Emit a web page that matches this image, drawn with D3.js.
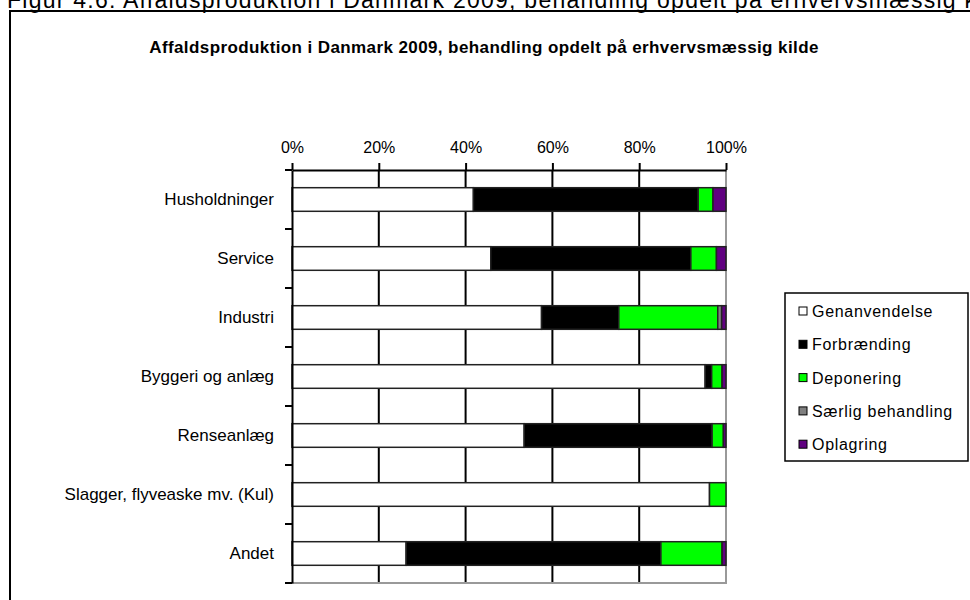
<!DOCTYPE html>
<html>
<head>
<meta charset="utf-8">
<script src="https://cdn.jsdelivr.net/npm/d3@7"></script>
<style>
  body { margin: 0; background: #fff; }
  svg { display: block; font-family: "Liberation Sans", Arial, sans-serif; }
</style>
</head>
<body>
<div id="chart"></div>
<script>
// Data
let categories = ["Husholdninger", "Service", "Industri", "Byggeri og anlæg", "Renseanlæg", "Slagger, flyveaske mv. (Kul)", "Andet"];
let seriesNames = ["Genanvendelse", "Forbrænding", "Deponering", "Særlig behandling", "Oplagring"];
let genanvendelse = [41.8, 45.8, 57.5, 95.2, 53.5, 96.2, 26.3];
let forbraending = [51.8, 46.1, 17.8, 1.5, 43.3, 0, 58.7];
let deponering = [3.4, 5.9, 22.8, 2.4, 2.6, 3.8, 14.1];
let saerlig = [0, 0, 0.9, 0, 0, 0, 0];
let oplagring = [3.0, 2.2, 1.0, 0.9, 0.6, 0, 0.9];
let xTicks = [0, 0.2, 0.4, 0.6, 0.8, 1];

let width = 970;
let height = 600;
let plot = { left: 292, right: 726, top: 170, bottom: 583 };
let colors = ["#ffffff", "#000000", "#00ff00", "#808080", "#600080"];

let rows = categories.map(function(c, i) {
	return {
		category: c,
		"Genanvendelse": genanvendelse[i],
		"Forbrænding": forbraending[i],
		"Deponering": deponering[i],
		"Særlig behandling": saerlig[i],
		"Oplagring": oplagring[i]
	};
});

let stacked = d3.stack()
	.keys(seriesNames)
	.offset(d3.stackOffsetExpand)(rows);

let xScale = d3.scaleLinear().domain([0, 1]).range([plot.left, plot.right]);
let yScale = d3.scaleBand()
	.domain(categories)
	.range([plot.top, plot.bottom])
	.paddingInner(0.6)
	.paddingOuter(0.3);
let colorScale = d3.scaleOrdinal().domain(seriesNames).range(colors);

let svg = d3.select("#chart").append("svg")
	.attr("width", width)
	.attr("height", height);

// Figure caption, cut off at the top and right of the page
svg.append("text")
	.attr("x", 7)
	.attr("y", 8)
	.style("font-size", "23px")
	.style("letter-spacing", "1.25px")
	.text("Figur 4.6: Affaldsproduktion i Danmark 2009, behandling opdelt på erhvervsmæssig kilde");

// Outer frame
svg.append("rect")
	.attr("x", 10)
	.attr("y", 11)
	.attr("width", 980)
	.attr("height", 620)
	.attr("fill", "none")
	.attr("stroke", "#000")
	.attr("stroke-width", 2);

// Title
svg.append("text")
	.attr("x", 484)
	.attr("y", 53)
	.attr("text-anchor", "middle")
	.style("font-size", "17px")
	.style("font-weight", "bold")
	.style("letter-spacing", "0.4px")
	.text("Affaldsproduktion i Danmark 2009, behandling opdelt på erhvervsmæssig kilde");

// Vertical gridlines
svg.append("g").selectAll("line")
	.data(xTicks.slice(1, -1))
	.enter().append("line")
	.attr("x1", function(d) { return xScale(d); })
	.attr("x2", function(d) { return xScale(d); })
	.attr("y1", plot.top)
	.attr("y2", plot.bottom)
	.attr("stroke", "#000")
	.attr("stroke-width", 2);

// Plot border right and bottom (gray)
svg.append("path")
	.attr("d", "M" + xScale(1) + "," + plot.top + "V" + plot.bottom + "H" + xScale(0))
	.attr("fill", "none")
	.attr("stroke", "#999")
	.attr("stroke-width", 2);

// Bars
let seriesGroup = svg.append("g").selectAll("g")
	.data(stacked)
	.enter().append("g")
	.attr("fill", function(d) { return colorScale(d.key); });

seriesGroup.selectAll("rect")
	.data(function(d) { return d; })
	.enter().append("rect")
	.attr("x", function(d) { return xScale(d[0]); })
	.attr("y", function(d) { return yScale(d.data.category); })
	.attr("width", function(d) { return xScale(d[1]) - xScale(d[0]); })
	.attr("height", yScale.bandwidth())
	.attr("stroke", "#222")
	.attr("stroke-width", function(d) { return d[1] - d[0] > 0 ? 1.5 : 0; });

// X axis on top
let xAxis = d3.axisTop(xScale)
	.tickValues(xTicks)
	.tickFormat(d3.format(".0%"))
	.tickSize(7)
	.tickSizeOuter(0)
	.tickPadding(10);

let xAxisG = svg.append("g")
	.attr("transform", "translate(0," + plot.top + ")")
	.call(xAxis);
xAxisG.select(".domain").attr("stroke", "#000").attr("stroke-width", 2);
xAxisG.selectAll(".tick line").attr("stroke", "#000").attr("stroke-width", 2).attr("y2", -7);
xAxisG.selectAll(".tick text")
	.attr("fill", "#000")
	.style("font-size", "16px")
	.style("font-family", "'Liberation Sans', Arial, sans-serif");

// Y axis with ticks between categories
let yAxis = d3.axisLeft(yScale)
	.tickSize(0)
	.tickPadding(18);

let yAxisG = svg.append("g")
	.attr("transform", "translate(" + plot.left + ",0)")
	.call(yAxis);
yAxisG.select(".domain").attr("stroke", "#000").attr("stroke-width", 2);
yAxisG.selectAll(".tick text")
	.attr("fill", "#000")
	.style("font-size", "17px")
	.style("font-family", "'Liberation Sans', Arial, sans-serif");

let gap = (yScale.step() - yScale.bandwidth()) / 2;
let boundaries = categories.map(function(c) { return yScale(c) - gap; })
	.concat([yScale(categories[categories.length - 1]) + yScale.bandwidth() + gap]);

svg.append("g").selectAll("line")
	.data(boundaries)
	.enter().append("line")
	.attr("x1", plot.left - 7)
	.attr("x2", plot.left)
	.attr("y1", function(d) { return d; })
	.attr("y2", function(d) { return d; })
	.attr("stroke", "#000")
	.attr("stroke-width", 2);

// Legend
let legend = svg.append("g").attr("transform", "translate(785,293)");
legend.append("rect")
	.attr("width", 183)
	.attr("height", 168)
	.attr("fill", "#fff")
	.attr("stroke", "#000")
	.attr("stroke-width", 1.5);

let legendItem = legend.selectAll(".item")
	.data(seriesNames)
	.enter().append("g")
	.attr("class", "item")
	.attr("transform", function(d, i) { return "translate(0," + (18 + i * 33.3) + ")"; });

legendItem.append("rect")
	.attr("x", 14)
	.attr("y", -4)
	.attr("width", 8)
	.attr("height", 8)
	.attr("fill", function(d) { return colorScale(d); })
	.attr("stroke", "#000")
	.attr("stroke-width", 1);

legendItem.append("text")
	.attr("x", 27)
	.attr("y", 6)
	.style("font-size", "16px")
	.style("letter-spacing", "0.7px")
	.text(function(d) { return d; });
</script>
</body>
</html>
